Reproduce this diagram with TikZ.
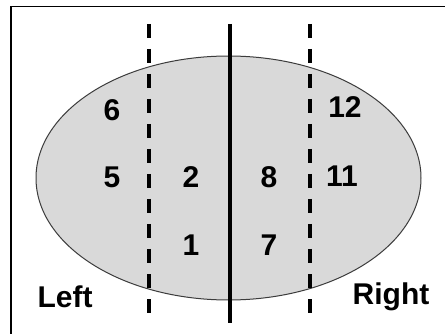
\documentclass[tikz,border=0pt]{standalone}
\usepackage{fontspec}
\setmainfont{Liberation Sans}
\begin{document}
\begin{tikzpicture}[x=1pt,y=-1pt,
  lbl/.style={font=\fontsize{30}{32}\selectfont\bfseries, inner sep=0pt, anchor=center},
  divline/.style={line width=3.3pt, draw=black},
  dashline/.style={line width=3.2pt, draw=black, dash pattern=on 14pt off 11pt}]
\useasboundingbox (0,0) rectangle (445,334);
\clip (0,0) rectangle (445,334);
\fill[white] (0,0) rectangle (445,334);
\draw[line width=1.8pt] (11,6.5) rectangle (470,360);
\draw[fill={rgb,255:red,217;green,217;blue,217}, draw={rgb,255:red,60;green,60;blue,60}, line width=1pt]
  (228.5,178) ellipse [x radius=192.5, y radius=122];
\coordinate (ct) at (230,24);
\coordinate (cb) at (230,323);
\coordinate (lt) at (149,24);
\coordinate (lb) at (149,323);
\coordinate (rt) at (310,24);
\coordinate (rb) at (310,323);
\draw[divline] (ct) -- (cb);
\draw[dashline] (lt) -- (lb);
\draw[dashline] (rt) -- (rb);
\node[lbl] (n6) at (112,110) {6};
\node[lbl] (n5) at (112,177) {5};
\node[lbl] (n2) at (191,177) {2};
\node[lbl] (n1) at (191,245) {1};
\node[lbl] (n8) at (269,177) {8};
\node[lbl] (n7) at (269,245) {7};
\node[lbl] (n12) at (345,107) {12};
\node[lbl] (n11) at (342,176) {11};
\node[lbl] (left) at (65,297) {Left};
\node[lbl] (right) at (391,297) {Right};
\end{tikzpicture}
\end{document}
